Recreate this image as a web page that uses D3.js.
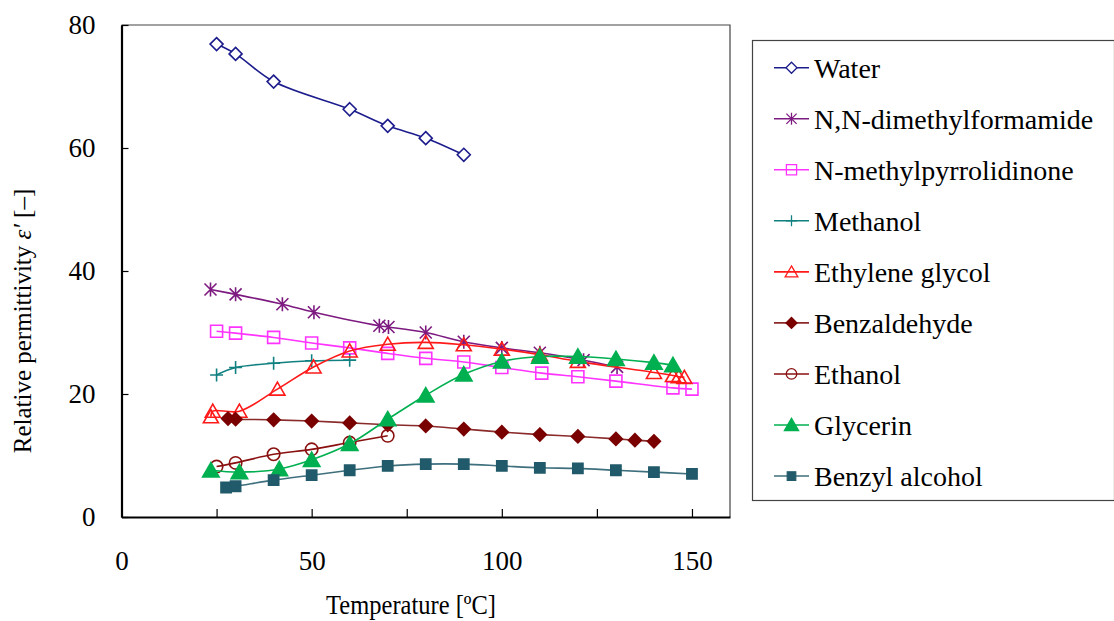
<!DOCTYPE html>
<meta charset="utf-8">
<style>
body { margin: 0; background: #fff; }
svg { font-family: "Times New Roman", "Liberation Serif", serif; }
.axis path, .axis line { stroke: #000; }
.axis text { font-family: "Times New Roman", "Liberation Serif", serif; font-size: 27px; fill: #000; }
</style>
<body>
<script src="https://cdn.jsdelivr.net/npm/d3@7"></script>
<script>
// temperatures (ºC) and relative permittivity
var waterT = [25, 30, 40, 60, 70, 80, 90];
var waterE = [76.9, 75.3, 70.8, 66.3, 63.6, 61.6, 58.9];

var dmfT = [23.4, 30, 42.3, 50.6, 67.8, 70.2, 80, 90, 100, 110, 121.5, 130.3];
var dmfE = [37.0, 36.2, 34.6, 33.3, 31.1, 30.9, 30.0, 28.5, 27.5, 26.7, 25.5, 24.4];

var nmpT = [25, 30, 40, 50, 60, 70, 80, 90, 100, 110.5, 120, 130, 145, 150];
var nmpE = [30.2, 29.9, 29.2, 28.3, 27.5, 26.6, 25.8, 25.2, 24.3, 23.4, 22.8, 22.1, 21.0, 20.8];

var methanolT = [25, 30, 40, 50, 60];
var methanolE = [23.1, 24.3, 25.0, 25.4, 25.5];

var egT = [23.5, 24, 31, 41, 50.5, 60, 70, 80, 90, 100, 110, 120, 140, 145, 146.5, 148];
var egE = [16.3, 17.2, 17.2, 20.8, 24.4, 27.0, 28.1, 28.4, 28.0, 27.3, 26.4, 25.3, 23.5, 23.0, 22.8, 22.7];

var benzaldehydeT = [28, 30, 40, 50, 60, 70, 80, 90, 100, 110, 120, 130, 135, 140];
var benzaldehydeE = [16.0, 15.9, 15.8, 15.6, 15.3, 15.0, 14.8, 14.3, 13.8, 13.4, 13.1, 12.7, 12.5, 12.3];

var ethanolT = [25, 30, 40, 50, 60, 70];
var ethanolE = [8.2, 8.8, 10.2, 11.0, 12.1, 13.2];

var glycerinT = [23.5, 31, 41.5, 50, 60, 70, 80, 90, 100, 110, 120, 130, 140, 145];
var glycerinE = [7.6, 7.3, 7.8, 9.3, 11.9, 15.9, 19.8, 23.2, 25.3, 26.1, 26.1, 25.7, 25.1, 24.7];

var benzylT = [27.5, 30, 40, 50, 60, 70, 80, 90, 100, 110, 120, 130, 140, 150];
var benzylE = [4.8, 5.0, 6.0, 6.8, 7.6, 8.3, 8.6, 8.6, 8.3, 8.0, 7.9, 7.6, 7.3, 7.0];

var seriesNames = ["Water", "N,N-dimethylformamide", "N-methylpyrrolidinone", "Methanol",
  "Ethylene glycol", "Benzaldehyde", "Ethanol", "Glycerin", "Benzyl alcohol"];
var seriesT = [waterT, dmfT, nmpT, methanolT, egT, benzaldehydeT, ethanolT, glycerinT, benzylT];
var seriesE = [waterE, dmfE, nmpE, methanolE, egE, benzaldehydeE, ethanolE, glycerinE, benzylE];

var xTicks = [0, 25, 50, 75, 100, 125, 150];
var xLabels = [0, 50, 100, 150];
var yTicks = [0, 20, 40, 60, 80];

// look of each series
var styles = [
  {color: "#1c1c8c", line: "#1c1c8c", marker: "diamond", fill: "#fff"},
  {color: "#7d1a80", line: "#7d1a80", marker: "asterisk", fill: "none"},
  {color: "#ff33ff", line: "#ff33ff", marker: "square", fill: "none"},
  {color: "#118080", line: "#118080", marker: "plus", fill: "none"},
  {color: "#ff1a1a", line: "#ff1a1a", marker: "triangle", fill: "none"},
  {color: "#7a0000", line: "#8a2a2a", marker: "diamond", fill: "#7a0000"},
  {color: "#8a1010", line: "#8a1010", marker: "circle", fill: "none"},
  {color: "#00b050", line: "#00b050", marker: "triangle", fill: "#00b050"},
  {color: "#215a6a", line: "#3e6f7d", marker: "square", fill: "#215a6a"}
];

var W = 1114, H = 621;
var x = d3.scaleLinear().domain([0, 160]).range([121.5, 730]);
var y = d3.scaleLinear().domain([0, 80]).range([517, 25]);

var svg = d3.select("body").append("svg")
    .attr("width", W)
    .attr("height", H);

// plot frame (top and right)
svg.append("path")
    .attr("d", "M" + x(0) + "," + y(80) + "H" + x(160) + "V" + y(0))
    .attr("fill", "none")
    .attr("stroke", "#444")
    .attr("stroke-width", 1.2);

svg.append("g")
    .attr("class", "axis")
    .attr("transform", "translate(0," + y(0) + ")")
    .call(d3.axisBottom(x).tickValues(xTicks).tickSizeInner(-8).tickSizeOuter(0).tickPadding(34)
      .tickFormat(function(d) { return xLabels.indexOf(d) >= 0 ? d : ""; }))
    .call(function(g) {
      g.select(".domain").attr("stroke-width", 2.2);
      g.selectAll(".tick line").attr("stroke-width", 1.2);
    });

svg.append("g")
    .attr("class", "axis")
    .attr("transform", "translate(" + x(0) + ",0)")
    .call(d3.axisLeft(y).tickValues(yTicks).tickSizeInner(-7).tickSizeOuter(0).tickPadding(26))
    .call(function(g) {
      g.select(".domain").attr("stroke-width", 2.2);
      g.selectAll(".tick line").attr("stroke-width", 1.2);
    });

// axis titles are a little taller than wide in the original
svg.append("text")
    .attr("transform", "translate(411,614) scale(1,1.1)")
    .attr("text-anchor", "middle")
    .style("font-size", "24.5px")
    .text("Temperature [ºC]");

var ylab = svg.append("text")
    .attr("transform", "translate(31,321) rotate(-90)")
    .attr("text-anchor", "middle")
    .style("font-size", "25px");
ylab.append("tspan").text("Relative permittivity  ");
ylab.append("tspan").style("font-style", "italic").text("ε′");
ylab.append("tspan").text(" [–]");

function markerPath(type) {
  var p = d3.path();
  if (type == "diamond") {
    var r = 6.5;
    p.moveTo(0, -r); p.lineTo(r, 0); p.lineTo(0, r); p.lineTo(-r, 0); p.closePath();
  } else if (type == "square") {
    var s = 6;
    p.rect(-s, -s, 2 * s, 2 * s);
  } else if (type == "triangle") {
    p.moveTo(0, -7); p.lineTo(7.5, 6); p.lineTo(-7.5, 6); p.closePath();
  } else if (type == "circle") {
    p.arc(0, 0, 6.2, 0, 2 * Math.PI);
  } else if (type == "plus") {
    p.moveTo(-6.5, 0); p.lineTo(6.5, 0); p.moveTo(0, -6.5); p.lineTo(0, 6.5);
  } else if (type == "asterisk") {
    p.moveTo(-6, -6); p.lineTo(6, 6); p.moveTo(6, -6); p.lineTo(-6, 6);
    p.moveTo(0, -7); p.lineTo(0, 7);
  }
  return p.toString();
}

function markerSize(i) {
  if (i == 8) return 0.85;          // benzyl alcohol squares a bit smaller
  if (i == 7) return 1.1;           // glycerin filled triangles
  return 1;
}

var line = d3.line()
    .x(function(d) { return x(d[0]); })
    .y(function(d) { return y(d[1]); })
    .curve(d3.curveCatmullRom.alpha(0.5));

var plot = svg.append("g");

seriesNames.forEach(function(name, i) {
  var st = styles[i];
  var pts = seriesT[i].map(function(t, j) { return [t, seriesE[i][j]]; });
  var g = plot.append("g");
  g.append("path")
      .datum(pts)
      .attr("d", line)
      .attr("fill", "none")
      .attr("stroke", st.line)
      .attr("stroke-width", 1.6);
  g.selectAll("path.mk")
    .data(pts)
    .enter().append("path")
      .attr("class", "mk")
      .attr("d", markerPath(st.marker))
      .attr("transform", function(d) {
        return "translate(" + x(d[0]) + "," + y(d[1]) + ") scale(" + markerSize(i) + ")";
      })
      .attr("fill", st.fill)
      .attr("stroke", st.color)
      .attr("stroke-width", 1.6 / markerSize(i));
});

// legend
var legend = svg.append("g");
legend.append("rect")
    .attr("x", 752.5)
    .attr("y", 40.5)
    .attr("width", 362)
    .attr("height", 460)
    .attr("fill", "#fff")
    .attr("stroke", "#444")
    .attr("stroke-width", 1.2);

var entry = legend.selectAll("g.entry")
  .data(seriesNames)
  .enter().append("g")
    .attr("class", "entry")
    .attr("transform", function(d, i) { return "translate(0," + (67.7 + i * 51.04) + ")"; });

entry.append("line")
    .attr("x1", 774).attr("x2", 809)
    .attr("stroke", function(d, i) { return styles[i].line; })
    .attr("stroke-width", 1.6);

entry.append("path")
    .attr("d", function(d, i) { return markerPath(styles[i].marker); })
    .attr("transform", function(d, i) { return "translate(791.5,0) scale(" + 0.85 * markerSize(i) + ")"; })
    .attr("fill", function(d, i) { return styles[i].fill; })
    .attr("stroke", function(d, i) { return styles[i].color; })
    .attr("stroke-width", 1.5);

entry.append("text")
    .attr("x", 814)
    .attr("y", 9.8)
    .style("font-size", "28px")
    .text(function(d) { return d; });
</script>
</body>
